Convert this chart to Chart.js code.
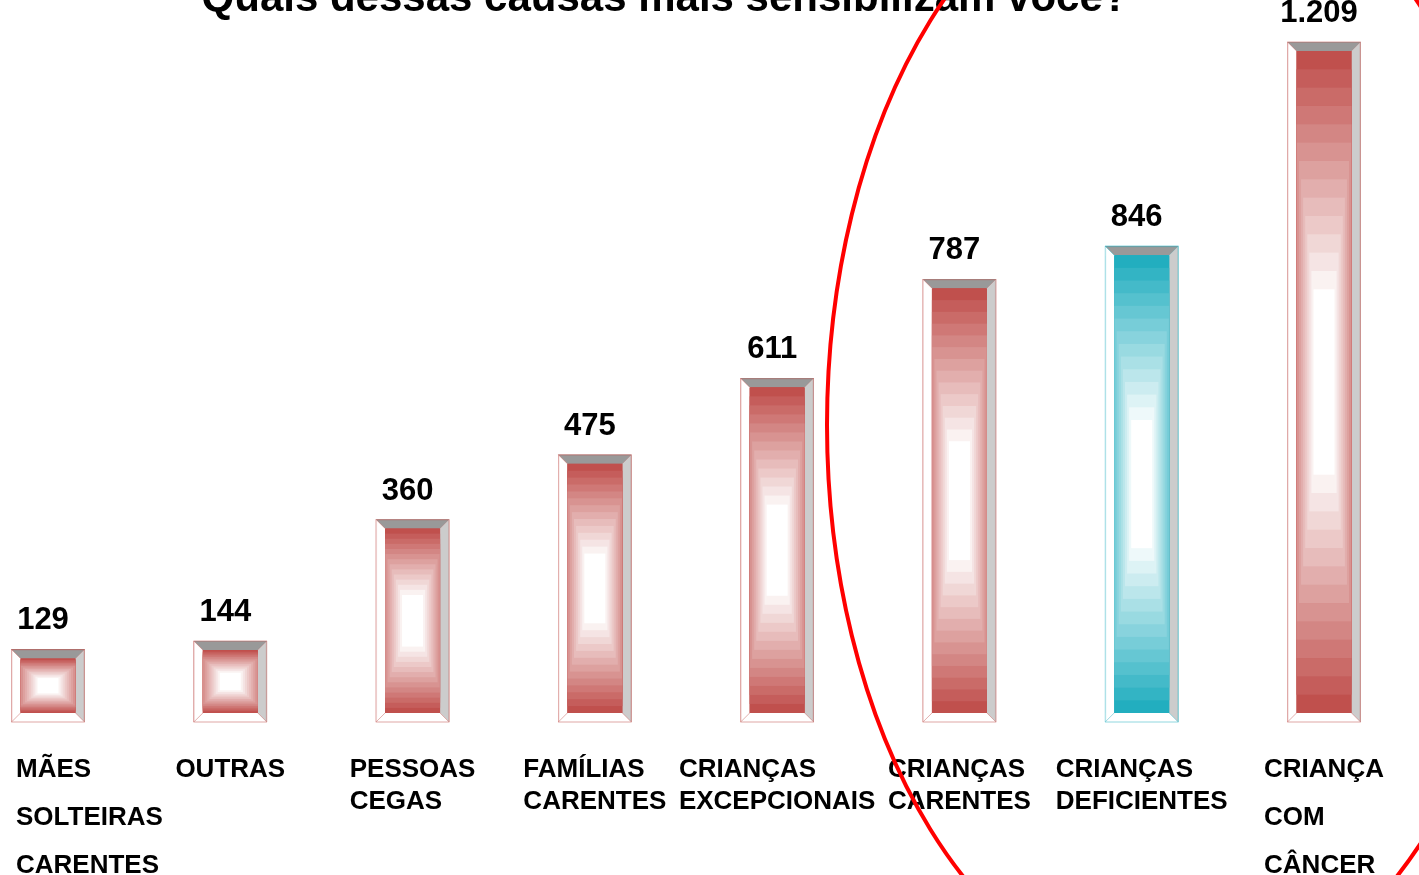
<!DOCTYPE html>
<html lang="pt-BR">
<head>
<meta charset="utf-8">
<title>Quais dessas causas mais sensibilizam você?</title>
<script src="https://cdn.jsdelivr.net/npm/chart.js@4.4.1/dist/chart.umd.min.js"></script>
<style>
  html, body { margin: 0; padding: 0; background: #ffffff; }
  #wrap { position: relative; width: 1419px; height: 875px; overflow: hidden; }
</style>
</head>
<body>
<div id="wrap"><canvas id="causasChart"></canvas></div>
<script>
  // Dados do gráfico
  const chartTitle = 'Quais dessas causas mais sensibilizam você?';
  const causas = [
    ['MÃES', 'SOLTEIRAS', 'CARENTES'],
    ['OUTRAS'],
    ['PESSOAS', 'CEGAS'],
    ['FAMÍLIAS', 'CARENTES'],
    ['CRIANÇAS', 'EXCEPCIONAIS'],
    ['CRIANÇAS', 'CARENTES'],
    ['CRIANÇAS', 'DEFICIENTES'],
    ['CRIANÇA', 'COM', 'CÂNCER']
  ];
  const respostas = [129, 144, 360, 475, 611, 787, 846, 1209];
  const causaDestacada = 'CRIANÇAS DEFICIENTES';

  // Estilo
  const FONT = "'Liberation Sans', Arial, sans-serif";
  const corVermelha = [192, 80, 77];
  const corAzul = [34, 174, 191];
  const bevel = 9;
  const degraus = 14;     // faixas do degradê até o branco
  const alcance = 0.72;   // fração da meia-altura onde o degradê chega ao branco
  const folgaLateral = 10; // o degradê começa fora das laterais da barra

  function shade(rgb, t) {
    const c = rgb.map(v => Math.round(v + (255 - v) * t));
    return `rgb(${c[0]}, ${c[1]}, ${c[2]})`;
  }

  function formatBR(n) {
    return String(n).replace(/\B(?=(\d{3})+(?!\d))/g, '.');
  }

  function corDaBarra(i) {
    return causas[i].join(' ') === causaDestacada ? corAzul : corVermelha;
  }

  function poly(ctx, pts, fill) {
    ctx.beginPath();
    ctx.moveTo(pts[0][0], pts[0][1]);
    pts.slice(1).forEach(p => ctx.lineTo(p[0], p[1]));
    ctx.closePath();
    ctx.fillStyle = fill;
    ctx.fill();
  }

  // barras com moldura chanfrada e degradê do centro
  const bevelBars = {
    id: 'bevelBars',
    afterDatasetsDraw(chart) {
      const ctx = chart.ctx;
      const meta = chart.getDatasetMeta(0);
      meta.data.forEach((bar, i) => {
        const { x, y, base, width } = bar.getProps(['x', 'y', 'base', 'width'], true);
        const l = x - width / 2, r = x + width / 2;
        const b = bevel;
        const rgb = corDaBarra(i);
        ctx.save();
        poly(ctx, [[l, y], [r, y], [r - b, y + b], [l + b, y + b]], '#999999');
        poly(ctx, [[r, y], [r, base], [r - b, base - b], [r - b, y + b]], '#cccccc');
        poly(ctx, [[l, y], [l + b, y + b], [l + b, base - b], [l, base]], '#ffffff');
        poly(ctx, [[l, base], [l + b, base - b], [r - b, base - b], [r, base]], '#ffffff');

        const ix = l + b, iy = y + b, iw = width - 2 * b, ih = base - b - iy;
        for (let s = 0; s < degraus; s++) {
          const f = alcance * s / (degraus - 1);
          const dx = Math.max(0, (iw / 2 + folgaLateral) * f - folgaLateral);
          const dy = ih / 2 * f;
          ctx.fillStyle = shade(rgb, s / (degraus - 1));
          ctx.fillRect(ix + dx, iy + dy, iw - 2 * dx, ih - 2 * dy);
        }

        ctx.strokeStyle = `rgba(${rgb[0]}, ${rgb[1]}, ${rgb[2]}, 0.25)`;
        ctx.lineWidth = 1;
        ctx.strokeRect(l + 0.5, y + 0.5, width - 1, base - y - 1);
        ctx.beginPath();
        ctx.moveTo(l, base); ctx.lineTo(l + b, base - b);
        ctx.moveTo(r, base); ctx.lineTo(r - b, base - b);
        ctx.moveTo(l, y); ctx.lineTo(l + b, y + b);
        ctx.stroke();

        // valor
        ctx.fillStyle = '#000000';
        ctx.font = `bold 31px ${FONT}`;
        ctx.textAlign = 'center';
        ctx.textBaseline = 'alphabetic';
        ctx.fillText(formatBR(respostas[i]), x - 5, y - 20);
        ctx.restore();
      });
    }
  };

  // rótulos das causas, título e o círculo vermelho
  const overlay = {
    id: 'overlay',
    afterDraw(chart) {
      const ctx = chart.ctx;
      const xs = chart.scales.x;
      ctx.save();
      ctx.fillStyle = '#000000';
      ctx.font = `bold 26px ${FONT}`;
      ctx.textAlign = 'left';
      ctx.textBaseline = 'alphabetic';
      causas.forEach((linhas, i) => {
        const cx = xs.getPixelForTick(i);
        const maxW = Math.max(...linhas.map(t => ctx.measureText(t).width));
        let left = Math.max(16, cx - maxW / 2);
        left = Math.min(left, chart.width - maxW - 2);
        const passo = linhas.length > 2 ? 48 : 32;
        linhas.forEach((t, k) => ctx.fillText(t, left, 777 + k * passo));
      });

      ctx.font = `bold 42px ${FONT}`;
      ctx.textAlign = 'center';
      ctx.fillText(chartTitle, 665, 11);

      ctx.beginPath();
      ctx.ellipse(1180, 425, 353, 572, 0, 0, Math.PI * 2);
      ctx.strokeStyle = '#ff0000';
      ctx.lineWidth = 4;
      ctx.stroke();
      ctx.restore();
    }
  };

  new Chart(document.getElementById('causasChart'), {
    type: 'bar',
    data: {
      labels: causas,
      datasets: [{
        data: respostas,
        backgroundColor: respostas.map((_, i) => shade(corDaBarra(i), 0)),
        barThickness: 73,
        clip: false
      }]
    },
    options: {
      responsive: true,
      maintainAspectRatio: false,
      animation: false,
      devicePixelRatio: 1,
      layout: { padding: { top: 42, bottom: 153, left: 48, right: 95 } },
      plugins: {
        legend: { display: false },
        tooltip: { enabled: false },
        title: { display: false }
      },
      scales: {
        x: { display: false, offset: false },
        y: { display: false, min: 0, max: Math.max(...respostas) }
      }
    },
    plugins: [bevelBars, overlay]
  });
</script>
</body>
</html>
